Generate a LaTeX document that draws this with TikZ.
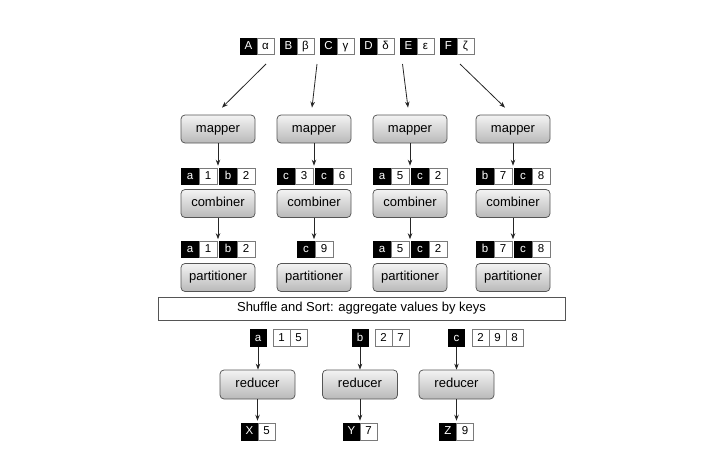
\documentclass[tikz,border=0pt]{standalone}
\usepackage{fontspec}
\setmainfont{Liberation Sans}
\usetikzlibrary{arrows.meta}
\definecolor{boxline}{HTML}{555555}
\definecolor{celline}{HTML}{7A7A7A}
\definecolor{shtop}{HTML}{F3F3F3}
\definecolor{shbot}{HTML}{B9B9B9}
\begin{document}
\begin{tikzpicture}[x=1pt,y=-1pt,
  cellbase/.style={rectangle, inner sep=0pt, minimum width=17pt, minimum height=16pt,
    font=\fontsize{11.5}{11.5}\selectfont, text height=8.3pt, text depth=2.3pt, line width=0.6pt},
  kc/.style={cellbase, fill=black, draw=black, text=white},
  vc/.style={cellbase, fill=white, draw=celline, text=black},
  mc/.style={minimum width=18pt},
  rc/.style={minimum height=17pt},
  proc/.style={rectangle, rounded corners=4pt, draw=boxline, line width=0.75pt,
    top color=shtop, bottom color=shbot, minimum width=74pt, minimum height=28pt,
    inner sep=0pt, font=\fontsize{13}{13}\selectfont, text height=9.5pt, text depth=2.7pt},
  arr/.style={-{Stealth[length=6pt,width=4.5pt]}, line width=0.8pt, draw=black!85}
]
\useasboundingbox (0,0) rectangle (727,466);

% top input pairs
\foreach \i/\k/\v in {0/A/α,1/B/β,2/C/γ,3/D/δ,4/E/ε,5/F/ζ}{
  \node[kc] (tk\i) at (248.5+40*\i,46) {\k};
  \node[vc] (tv\i) at (265.5+40*\i,46) {\v};
}

% mappers, combiners, partitioners
\foreach \c/\cx in {1/218,2/314,3/410,4/513}{
  \node[proc] (m\c) at (\cx,129) {mapper};
  \node[proc] (c\c) at (\cx,203.5) {combiner};
  \node[proc] (p\c) at (\cx,277.5) {partitioner};
}

% mapper outputs
\foreach \c/\cx/\ka/\va/\kb/\vb in {1/218/a/1/b/2, 2/314/c/3/c/6, 3/410/a/5/c/2, 4/513/b/7/c/8}{
  \node[kc,mc] (mo\c a) at (\cx-28,176) {\ka};
  \node[vc,mc] (mo\c b) at (\cx-10,176) {\va};
  \node[kc,mc] (mo\c c) at (\cx+10,176) {\kb};
  \node[vc,mc] (mo\c d) at (\cx+28,176) {\vb};
}

% combiner outputs
\foreach \c/\cx/\ka/\va/\kb/\vb in {1/218/a/1/b/2, 3/410/a/5/c/2, 4/513/b/7/c/8}{
  \node[kc,mc] (co\c a) at (\cx-28,249.5) {\ka};
  \node[vc,mc] (co\c b) at (\cx-10,249.5) {\va};
  \node[kc,mc] (co\c c) at (\cx+10,249.5) {\kb};
  \node[vc,mc] (co\c d) at (\cx+28,249.5) {\vb};
}
\node[kc,mc] (co2a) at (306,249.5) {c};
\node[vc,mc] (co2b) at (324,249.5) {9};

% vertical arrows in the map columns
\foreach \c in {1,2,3,4}{
  \draw[arr, shorten >=2pt] (m\c.south) -- (m\c.south |- mo\c a.north);
  \draw[arr, shorten >=2pt] (c\c.south) -- (c\c.south |- co\c a.north);
}

% arrows from the input to the mappers
\coordinate (s1) at (266,64);
\coordinate (s2) at (317,64);
\coordinate (s3) at (402.5,64);
\coordinate (s4) at (460,64);
\draw[arr] (s1) -- ([xshift=4pt,yshift=7pt]m1.north);
\draw[arr] (s2) -- ([xshift=-2pt,yshift=7pt]m2.north);
\draw[arr] (s3) -- ([xshift=-2pt,yshift=7pt]m3.north);
\draw[arr] (s4) -- ([xshift=-8pt,yshift=7pt]m4.north);

% shuffle and sort
\node[rectangle, draw=boxline, fill=white, line width=0.75pt, minimum width=407pt,
  minimum height=23pt, inner sep=0pt, font=\fontsize{13}{13}\selectfont,
  text height=9.5pt, text depth=2.7pt] (shuf) at (361.5,308.5)
  {Shuffle and Sort: aggregate values by keys};

% reducer inputs
\node[kc,rc,minimum width=16pt] (ra) at (258,338) {a};
\node[vc,rc] (ra1) at (281.5,338) {1};
\node[vc,rc] (ra2) at (298.5,338) {5};
\node[kc,rc,minimum width=16pt] (rb) at (360,338) {b};
\node[vc,rc] (rb1) at (383.5,338) {2};
\node[vc,rc] (rb2) at (400.5,338) {7};
\node[kc,rc,minimum width=16pt] (rcc) at (456.5,338) {c};
\node[vc,rc] (rc1) at (480.5,338) {2};
\node[vc,rc] (rc2) at (497.5,338) {9};
\node[vc,rc] (rc3) at (514.5,338) {8};

% reducers
\node[proc, minimum width=75pt, minimum height=29pt] (r1) at (257.5,384.5) {reducer};
\node[proc, minimum width=75pt, minimum height=29pt] (r2) at (360,384.5) {reducer};
\node[proc, minimum width=75pt, minimum height=29pt] (r3) at (456.5,384.5) {reducer};

% outputs
\node[kc,rc] (ox) at (249.5,431.5) {X};
\node[vc,rc] (ox1) at (266.5,431.5) {5};
\node[kc,rc] (oy) at (351.5,431.5) {Y};
\node[vc,rc] (oy1) at (368.5,431.5) {7};
\node[kc,rc] (oz) at (448,431.5) {Z};
\node[vc,rc] (oz1) at (465,431.5) {9};

% reducer arrows
\draw[arr] (ra.south) -- (ra.south |- r1.north);
\draw[arr] (rb.south) -- (rb.south |- r2.north);
\draw[arr] (rcc.south) -- (rcc.south |- r3.north);
\draw[arr, shorten >=2pt] (r1.south) -- (r1.south |- ox.north);
\draw[arr, shorten >=2pt] (r2.south) -- (r2.south |- oy.north);
\draw[arr, shorten >=2pt] (r3.south) -- (r3.south |- oz.north);
\end{tikzpicture}
\end{document}
